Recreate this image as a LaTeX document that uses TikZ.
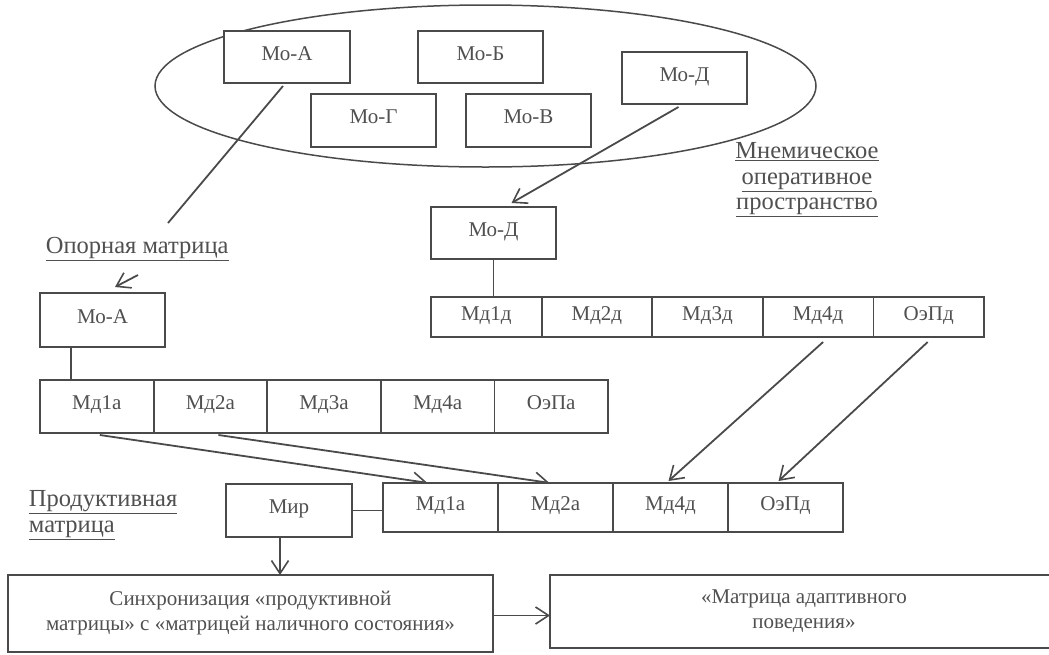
\documentclass[tikz,border=0pt]{standalone}
\usepackage{fontspec}
\setmainfont{Liberation Serif}
\usetikzlibrary{arrows.meta}
\definecolor{ink}{HTML}{4A4A4A}
\definecolor{txt}{HTML}{505050}
\begin{document}
\begin{tikzpicture}[x=1pt,y=-1pt,
  line width=1.8pt, draw=ink, text=txt,
  box/.style={draw=ink, fill=white, line width=1.8pt, inner sep=0pt, outer sep=0pt,
     font=\fontsize{21}{25}\selectfont},
  cell/.style={box, text height=0.88em, text depth=0.2em},
  lbl/.style={font=\fontsize{24.5}{25.5}\selectfont, inner sep=0pt, align=left},
  arr/.style={draw=ink, -{Straight Barb[length=13pt,width=17pt,line width=1.6pt]}},
  harp/.style={draw=ink, -{Straight Barb[left,length=13pt,width=17pt,line width=1.6pt]}},
  ]
\clip (0,0) rectangle (1049,654);
\fill[white] (0,0) rectangle (1049,654);

% ellipse (mnemic operative space)
\draw[ink, line width=1.5pt] (485.5,86) ellipse [x radius=330.5, y radius=81];

% top boxes
\node[cell, minimum width=126, minimum height=52] (moA) at (287,57) {Мо-А};
\node[cell, minimum width=125, minimum height=52] (moB) at (480.5,57) {Мо-Б};
\node[cell, minimum width=125, minimum height=53] (moG) at (373.5,120.5) {Мо-Г};
\node[cell, minimum width=125, minimum height=53] (moV) at (528.5,120.5) {Мо-В};
\node[cell, minimum width=125, minimum height=52] (moD) at (684.5,78) {Мо-Д};

% labels
\node[lbl, anchor=west] (lblA) at (45,249) {\underline{Опорная матрица}};
\node[lbl, align=center] (lblM) at (807,180) {\underline{Мнемическое}\\\underline{оперативное}\\\underline{пространство}};
\node[lbl, anchor=west] (lblP) at (28,515) {\underline{Продуктивная}\\\underline{матрица}};

% reference matrix
\node[cell, minimum width=125, minimum height=54] (moA2) at (102.5,320) {Мо-А};
\foreach \t [count=\i] in {Мд1а,Мд2а,Мд3а,Мд4а,ОэПа}{
  \node[cell, minimum width=113.6, minimum height=53] (a\i) at ({40+113.6*(\i-0.5)},406.5) {\t};
}

% operative D matrix
\node[cell, minimum width=125, minimum height=52] (moD2) at (493.5,233) {Мо-Д};
\foreach \t [count=\i] in {Мд1д,Мд2д,Мд3д,Мд4д,ОэПд}{
  \node[cell, minimum width=110.6, minimum height=40] (d\i) at ({431+110.6*(\i-0.5)},317) {\t};
}

% productive matrix
\node[cell, minimum width=126, minimum height=53] (mir) at (289,510.5) {Мир};
\foreach \t [count=\i] in {Мд1а,Мд2а,Мд4д,ОэПд}{
  \node[cell, minimum width=115, minimum height=49] (p\i) at ({383+115*(\i-0.5)},507.5) {\t};
}

% bottom boxes
\node[box, minimum width=485, minimum height=77, align=center] (sync) at (250.5,613.5)
  {Синхронизация «продуктивной\\матрицы» с «матрицей наличного состояния»};
\node[box, minimum width=508, minimum height=73, align=center] (adapt) at (804,611.5)
  {«Матрица адаптивного\\поведения»};

% connectors
\coordinate (aEnd) at (168,223);
\draw ([xshift=-4pt,yshift=-3pt]moA.south) -- (aEnd);
\coordinate (aArrS) at (138,275);
\coordinate (aArrT) at (115,287);
\draw[arr] (aArrS) -- (aArrT);

\draw[arr] ([xshift=-6pt,yshift=-3pt]moD.south) -- ([xshift=18pt,yshift=4pt]moD2.north);
\draw (moD2.south) -- (moD2.south |- d1.north);
\draw ([xshift=-31.5pt]moA2.south) -- ([xshift=-31.5pt]moA2.south |- a1.north);

\draw[harp] ([xshift=3pt,yshift=-2pt]a1.south) -- ([xshift=-12pt]p1.north);
\draw[harp] ([xshift=8pt,yshift=-2pt]a2.south) -- ([xshift=-5pt]p2.north);
\draw[arr] ([xshift=5pt,yshift=-5pt]d4.south) -- ([xshift=-2pt,yshift=2pt]p3.north);
\draw[arr] ([xshift=-1pt,yshift=-5pt]d5.south) -- ([xshift=-7pt,yshift=2pt]p4.north);

\draw (mir.east) -- (mir.east -| p1.west);
\draw[arr] ([xshift=-9pt]mir.south) -- ([xshift=-9pt]mir.south |- sync.north);
\draw[arr] ([yshift=-2pt]sync.east) -- ([yshift=-2pt]sync.east -| adapt.west);
\end{tikzpicture}
\end{document}
